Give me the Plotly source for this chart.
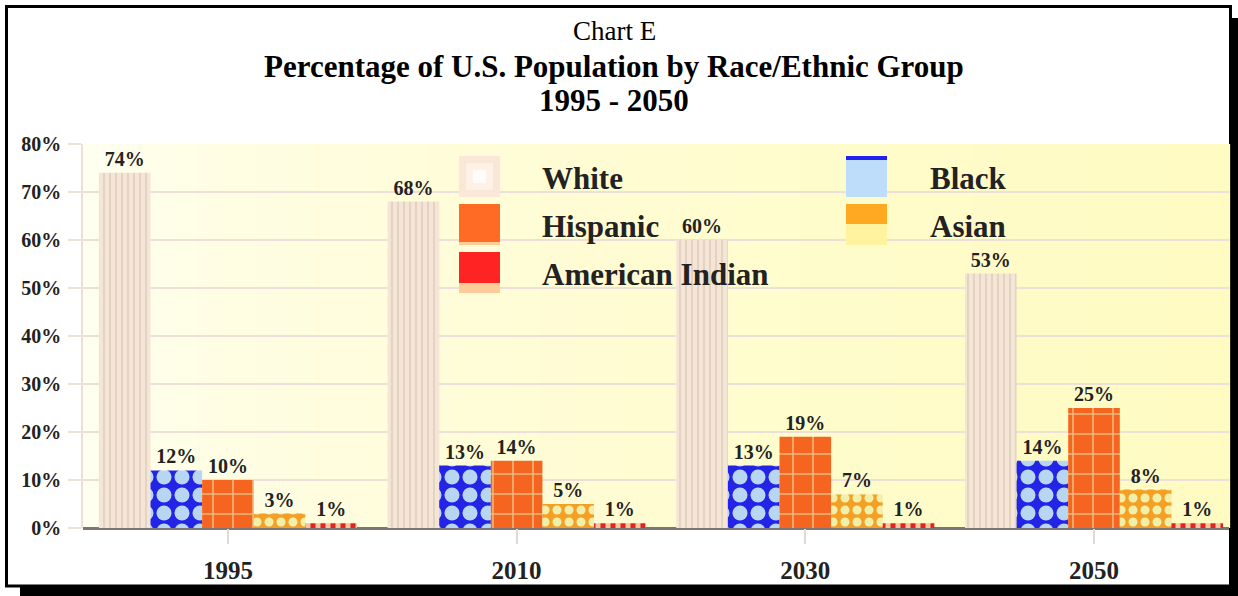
import plotly.graph_objects as go

# data (percent of U.S. population)
years = ["1995", "2010", "2030", "2050"]
white = [74, 68, 60, 53]
black = [12, 13, 13, 14]
hispanic = [10, 14, 19, 25]
asian = [3, 5, 7, 8]
american_indian = [1, 1, 1, 1]
y_ticks = [0, 10, 20, 30, 40, 50, 60, 70, 80]

FONT = "Liberation Serif"
INK = "#222222"
GRID = "#EEDFD8"

# page geometry in pixels
W, H = 1238, 596
L, R, T, B = 83, 9, 144, 68


def px(x):
    return (x - L) / (W - L - R)


def py(y):
    return (H - B - y) / (H - T - B)


series = [
    ("White", white, dict(shape="|", fgcolor="#D8C4B2", bgcolor="#F5E5D6", size=6, solidity=0.18)),
    ("Black", black, dict(shape=".", fgcolor="#B6D6F2", bgcolor="#2424E6", size=18, solidity=0.55)),
    ("Hispanic", hispanic, dict(shape="+", fgcolor="#EBB97C", bgcolor="#F5651F", size=20, solidity=0.15)),
    ("Asian", asian, dict(shape=".", fgcolor="#F3EFA8", bgcolor="#F4A024", size=12, solidity=0.45)),
    ("American Indian", american_indian, dict(shape="|", fgcolor="#F3C79B", bgcolor="#E52222", size=10, solidity=0.5)),
]

fig = go.Figure()
for name, vals, pat in series:
    fig.add_trace(go.Bar(
        name=name,
        x=years,
        y=vals,
        marker=dict(color=pat["bgcolor"], pattern=dict(fillmode="replace", **pat), line=dict(width=0)),
        text=[f"{v}%" for v in vals],
        textposition="outside",
        constraintext="none",
        cliponaxis=False,
        textfont=dict(family=FONT, size=20, color=INK, weight="bold"),
        showlegend=False,
        hovertemplate=name + " %{x}: %{y}%<extra></extra>",
    ))

shapes = [
    # drop shadow and framed white card
    dict(type="rect", xref="paper", yref="paper", layer="below",
         x0=px(20), x1=px(1238), y0=py(596), y1=py(18),
         fillcolor="black", line=dict(width=0)),
    dict(type="rect", xref="paper", yref="paper", layer="below",
         x0=px(6.5), x1=px(1230.5), y0=py(586), y1=py(6.5),
         fillcolor="white", line=dict(color="black", width=3)),
]

# plot area: soft cream-to-yellow gradient
N = 40
for i in range(N):
    t = ((i + 0.5) / N) ** 0.5
    g = round(255 - 4 * t)
    b = round(246 - 52 * t)
    shapes.append(dict(type="rect", xref="paper", yref="paper", layer="below",
                       x0=i / N, x1=(i + 1) / N + 0.001, y0=0, y1=1,
                       fillcolor=f"rgb(255,{g},{b})", line=dict(width=0)))


def box(x0, y0, x1, y1, color):
    return dict(type="rect", xref="paper", yref="paper", layer="above",
                x0=px(x0), x1=px(x1), y0=py(y1), y1=py(y0),
                fillcolor=color, line=dict(width=0))


# legend swatches (two columns)
lx1, lx2 = 459, 846
rows = [156, 204, 252]
sw, sh = 41, 41
r0, r1, r2 = rows
shapes += [
    box(lx1, r0, lx1 + sw, r0 + sh, "#FAE7D8"),
    box(lx1 + 7, r0 + 7, lx1 + sw - 7, r0 + sh - 7, "#FDF1E8"),
    box(lx1 + 14, r0 + 14, lx1 + sw - 14, r0 + sh - 14, "#FFFBF8"),
    box(lx2, r0, lx2 + sw, r0 + sh, "#BEDDFA"),
    box(lx2, r0, lx2 + sw, r0 + 4, "#2222EE"),
    box(lx1, r1, lx1 + sw, r1 + sh, "#FF6A25"),
    box(lx1, r1 + sh - 3, lx1 + sw, r1 + sh, "#FFCC99"),
    box(lx2, r1, lx2 + sw, r1 + sh, "#FFF3A0"),
    box(lx2, r1, lx2 + sw, r1 + 20, "#FFA822"),
    box(lx1, r2, lx1 + sw, r2 + sh, "#FFCC99"),
    box(lx1, r2, lx1 + sw, r2 + 31, "#FF2424"),
]

annotations = []
legend_pos = [(540, 178), (928, 178), (540, 226), (928, 226), (540, 274)]
for (name, _, _), (tx, ty) in zip(series, legend_pos):
    annotations.append(dict(text=name, xref="paper", yref="paper", x=px(tx), y=py(ty),
                            xanchor="left", yanchor="middle", showarrow=False,
                            font=dict(family=FONT, size=31, color=INK, weight="bold")))

titles = [("Chart E", 31, 27, "normal"),
          ("Percentage of U.S. Population by Race/Ethnic Group", 66, 31, "bold"),
          ("1995 - 2050", 100, 31, "bold")]
for text, ty, size, weight in titles:
    annotations.append(dict(text=text, xref="paper", yref="paper", x=px(614), y=py(ty),
                            xanchor="center", yanchor="middle", showarrow=False,
                            font=dict(family=FONT, size=size, color="black", weight=weight)))

fig.update_layout(
    width=W, height=H,
    margin=dict(l=L, r=R, t=T, b=B, pad=0),
    paper_bgcolor="white",
    plot_bgcolor="rgba(0,0,0,0)",
    font=dict(family=FONT, color=INK),
    barmode="group",
    bargap=0.106,
    bargroupgap=0,
    shapes=shapes,
    annotations=annotations,
    xaxis=dict(
        type="category",
        range=[-0.502, 3.4676],
        showgrid=False, showline=False, zeroline=False,
        ticks="outside", ticklen=15, tickwidth=2, tickcolor="#E0DAD4",
        tickfont=dict(family=FONT, size=25, color=INK, weight="bold"),
        ticklabelstandoff=5,
    ),
    yaxis=dict(
        range=[0, 80],
        tickvals=y_ticks,
        ticktext=[f"{v}%" for v in y_ticks],
        showgrid=True, gridcolor=GRID, gridwidth=1.5,
        showline=True, linecolor=GRID, linewidth=1.5,
        zeroline=True, zerolinecolor="#7B7672", zerolinewidth=3,
        ticks="outside", ticklen=13, tickcolor=GRID, tickwidth=1.5,
        tickfont=dict(family=FONT, size=20, color=INK, weight="bold"),
        ticklabelstandoff=3,
    ),
)

fig.write_html("out.html", config={"displayModeBar": False},
               post_script="document.body.style.margin='0';")
